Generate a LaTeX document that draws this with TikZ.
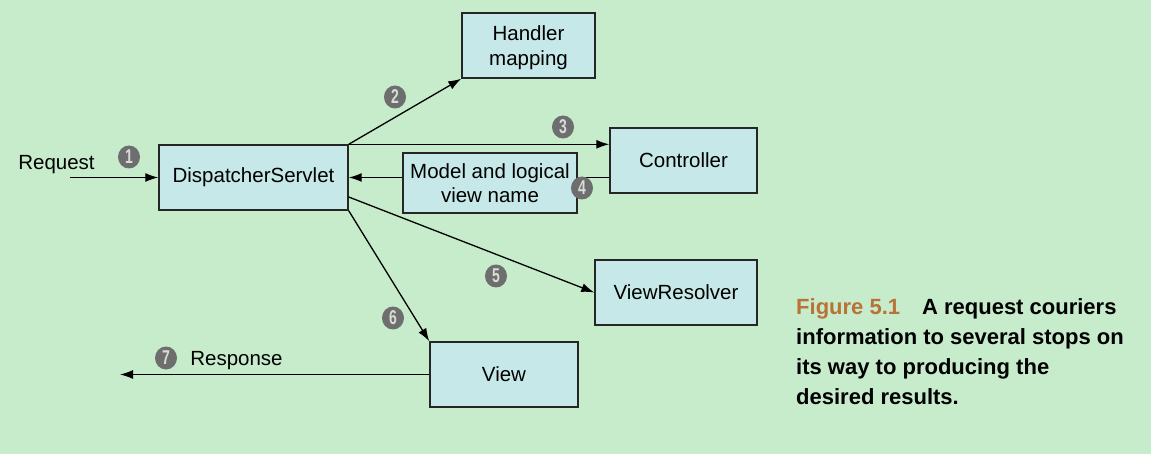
\documentclass[tikz,border=0pt]{standalone}
\usepackage{fontspec}
\setmainfont{Liberation Sans}
\usetikzlibrary{arrows.meta,shapes.geometric}
\definecolor{bg}{RGB}{198,236,204}
\definecolor{boxfill}{RGB}{198,232,232}
\definecolor{numfill}{RGB}{110,110,110}
\definecolor{numtext}{RGB}{214,220,214}
\definecolor{figcol}{RGB}{185,115,55}
\tikzset{
  comp/.style={draw=black!85, line width=1.4pt, fill=boxfill, inner sep=0pt,
    align=center, font=\fontsize{20.5}{25}\selectfont},
  arr/.style={line width=1.3pt, -{Latex[length=13pt,width=9pt]}},
  plain/.style={line width=1.3pt},
  num/.style={ellipse, fill=numfill, inner sep=0pt, minimum width=22pt, minimum height=23pt,
    text=numtext, font=\fontsize{20}{20}\selectfont\bfseries},
  lbl/.style={inner sep=0pt, font=\fontsize{20.5}{25}\selectfont}
}
\newcommand{\numtxt}[1]{\scalebox{0.7}[1]{#1}}
\begin{document}
\begin{tikzpicture}[x=1pt,y=-1pt]
\fill[bg] (0,0) rectangle (1151,454);
\useasboundingbox (0,0) rectangle (1151,454);

\node[comp, minimum width=133pt, minimum height=65pt] (hm) at (528.5,45.5) {\raisebox{-7pt}[0pt][0pt]{\parbox{120pt}{\centering Handler\\mapping}}};
\node[comp, minimum width=189pt, minimum height=65pt] (ds) at (253.5,177.5) {DispatcherServlet};
\node[comp, minimum width=147pt, minimum height=65pt] (ctrl) at (683.5,160.5) {Controller};
\node[comp, minimum width=174pt, minimum height=60pt, font=\fontsize{20.5}{24}\selectfont] (model) at (490,183) {Model and logical\\view name};
\node[comp, minimum width=162pt, minimum height=65pt] (vr) at (676,292.5) {ViewResolver};
\node[comp, minimum width=148pt, minimum height=65pt] (view) at (504,374.5) {View};

\coordinate (reqstart) at (70,177.5);
\coordinate (respend) at (120,374.5);

\node[lbl] (req) at (56.5,164.5) {Request};
\node[lbl] (resp) at (236.5,361) {Response};

% 1
\draw[arr] (reqstart) -- (ds.west);
% 2
\draw[arr] (ds.north east) -- (hm.south west);
% 3
\draw[arr] (ds.north east) -- (ctrl.west |- ds.north east);
% 4
\draw[plain] (ctrl.west |- ds.east) -- (model.east |- ds.east);
\draw[arr] (model.west |- ds.east) -- (ds.east);
% 5
\draw[arr] (ds.east |- 0,197) -- (vr.west);
% 6
\draw[arr] (ds.south east) -- (view.north west);
% 7
\draw[arr] (view.west) -- (respend);

\node[num] (n1) at (129,157) {\numtxt{1}};
\node[num] (n2) at (395,97) {\numtxt{2}};
\node[num] (n3) at (563,127) {\numtxt{3}};
\node[num] (n4) at (582,188) {\numtxt{4}};
\node[num] (n5) at (496,276) {\numtxt{5}};
\node[num] (n6) at (393,318) {\numtxt{6}};
\node[num] (n7) at (166,358) {\numtxt{7}};

\node[anchor=north west, inner sep=0pt, align=left,
  font=\fontsize{22}{30}\selectfont\bfseries] (cap) at (796,298.5)
  {\textcolor{figcol}{Figure 5.1}\hspace{22pt}A request couriers\\
   information to several stops on\\
   its way to producing the\\
   desired results.};
\end{tikzpicture}
\end{document}
